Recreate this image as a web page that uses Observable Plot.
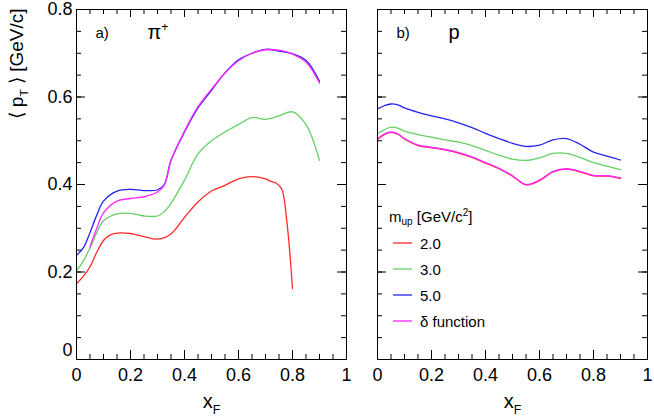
<!DOCTYPE html>
<html>
<head>
<meta charset="utf-8">
<script src="https://cdn.jsdelivr.net/npm/d3@7"></script>
<script src="https://cdn.jsdelivr.net/npm/@observablehq/plot@0.6"></script>
<style>
  body { margin: 0; background: white; font-family: "Liberation Sans", Arial, sans-serif; }
  #chart { position: relative; width: 654px; height: 418px; }
  #legend { position: absolute; left: 389px; top: 204px; font-size: 15px; color: #000; }
  #legend .row { display: flex; align-items: center; height: 26px; }
  #legend sub { font-size: 10px; vertical-align: -3px; }
  #legend sup { font-size: 10px; vertical-align: 6px; }
</style>
</head>
<body>
<div id="chart"></div>
<script>
// panels and series
const panels = ['a', 'b']
const panelTags = ['a)', 'b)']
const panelTitles = ['π+', 'p']
const seriesNames = ['2.0', '3.0', '5.0', 'δ function']
const seriesColors = ['#ff2a2a', '#66d066', '#2424ee', '#ff26ff']

// tick labels
const xMajor = [0, 0.2, 0.4, 0.6, 0.8, 1]
const yMajor = [0, 0.2, 0.4, 0.6, 0.8]
const xMinor = d3.range(0, 21).map(i => i * 0.05)
const yMinor = d3.range(0, 17).map(i => i * 0.05)

// a) pi+
const xPi = [0, 0.025, 0.05, 0.075, 0.1, 0.15, 0.2, 0.25, 0.3, 0.325, 0.35, 0.4, 0.45, 0.5, 0.55, 0.6, 0.65, 0.7, 0.75, 0.8, 0.85, 0.9]
const piGreen = [0.203, 0.225, 0.255, 0.29, 0.317, 0.333, 0.334, 0.328, 0.328, 0.338, 0.357, 0.41, 0.47, 0.50, 0.52, 0.537, 0.553, 0.549, 0.557, 0.566, 0.537, 0.455]
const piBlue = [0.238, 0.255, 0.29, 0.33, 0.362, 0.385, 0.389, 0.386, 0.388, 0.40, 0.455, 0.52, 0.575, 0.615, 0.655, 0.685, 0.70, 0.709, 0.705, 0.699, 0.684, 0.636]
const xPiDelta = [0.05, 0.075, 0.1, 0.15, 0.2, 0.25, 0.3, 0.325, 0.35, 0.4, 0.45, 0.5, 0.55, 0.6, 0.65, 0.7, 0.75, 0.8, 0.85, 0.9]
const piDelta = [0.257, 0.30, 0.335, 0.362, 0.368, 0.372, 0.383, 0.398, 0.455, 0.522, 0.578, 0.618, 0.655, 0.683, 0.70, 0.708, 0.707, 0.698, 0.68, 0.632]
const xPiRed = [0, 0.025, 0.05, 0.075, 0.1, 0.125, 0.15, 0.2, 0.25, 0.3, 0.35, 0.4, 0.45, 0.5, 0.55, 0.6, 0.65, 0.7, 0.72, 0.74, 0.76, 0.78, 0.8]
const piRed = [0.173, 0.19, 0.212, 0.245, 0.272, 0.285, 0.289, 0.288, 0.281, 0.275, 0.287, 0.325, 0.36, 0.385, 0.398, 0.413, 0.418, 0.413, 0.407, 0.403, 0.39, 0.31, 0.162]

// b) p
const xP = [0, 0.025, 0.05, 0.075, 0.1, 0.15, 0.2, 0.25, 0.3, 0.35, 0.4, 0.45, 0.5, 0.55, 0.6, 0.65, 0.7, 0.75, 0.8, 0.85, 0.9]
const pRed = [0.503, 0.514, 0.519, 0.515, 0.504, 0.489, 0.484, 0.479, 0.472, 0.462, 0.449, 0.436, 0.419, 0.399, 0.409, 0.429, 0.435, 0.429, 0.42, 0.419, 0.414]
const pGreen = [0.516, 0.525, 0.531, 0.529, 0.522, 0.514, 0.508, 0.502, 0.497, 0.489, 0.478, 0.467, 0.458, 0.455, 0.461, 0.471, 0.471, 0.462, 0.45, 0.442, 0.434]
const pBlue = [0.573, 0.58, 0.584, 0.582, 0.575, 0.565, 0.557, 0.55, 0.541, 0.53, 0.517, 0.505, 0.494, 0.487, 0.49, 0.502, 0.505, 0.492, 0.474, 0.465, 0.456]
const pDelta = [0.504, 0.515, 0.52, 0.516, 0.505, 0.49, 0.485, 0.48, 0.473, 0.463, 0.45, 0.437, 0.42, 0.40, 0.41, 0.43, 0.436, 0.43, 0.421, 0.42, 0.415]

const rows = (panel, series, xs, ys) => xs.map((x, i) => ({ panel, series, x, y: ys[i] }))
const data = [
    ...rows('a', '2.0', xPiRed, piRed),
    ...rows('a', '3.0', xPi, piGreen),
    ...rows('a', '5.0', xPi, piBlue),
    ...rows('a', 'δ function', xPiDelta, piDelta),
    ...rows('b', '2.0', xP, pRed),
    ...rows('b', '3.0', xP, pGreen),
    ...rows('b', '5.0', xP, pBlue),
    ...rows('b', 'δ function', xP, pDelta)
]

// tick positions repeated for each panel
const perPanel = ticks => panels.flatMap(panel => ticks.map(v => ({ panel, v })))

// sub/superscripts for plain Plot texts
const richMap = {
    'π+': { fs: 20, parts: [['π', 0], ['+', 1]] },
    'xF': { fs: 20, parts: [['x', 0], ['F', -1]] },
    '⟨ pT ⟩ [GeV/c]': { fs: 19, parts: [['⟨ p', 0], ['T', -1], [' ⟩ [GeV/c]', 0]] }
}
function applyRich(node, { fs, parts }) {
    const t = d3.select(node).text(null)
    let cur = 0
    for (const [s, lvl] of parts) {
        const target = lvl > 0 ? -0.42 * fs : lvl < 0 ? 0.3 * fs : 0
        t.append('tspan').attr('dy', target - cur).attr('font-size', lvl ? 0.62 * fs : fs).text(s)
        cur = target
    }
}

// panel size in px (inward ticks are inset rules)
const pw = 270, ph = 350
const tk = { fx: 'panel', stroke: 'black', strokeWidth: 1 }

let chart = Plot.plot({
    width: 654,
    height: 418,
    marginLeft: 76,
    marginRight: 7,
    marginTop: 9,
    marginBottom: 59,
    fx: { domain: panels, paddingInner: 0.103, paddingOuter: 0, axis: null },
    x: { domain: [0, 1] },
    y: { domain: [0, 0.8] },
    color: { domain: seriesNames, range: seriesColors },
    style: { fontFamily: '"Liberation Sans", Arial, sans-serif', background: 'white' },

    marks: [
        // ticks on all four sides of each panel, pointing inward
        Plot.ruleX(perPanel(xMinor), { x: 'v', insetTop: ph - 5, ...tk }),
        Plot.ruleX(perPanel(xMajor), { x: 'v', insetTop: ph - 9, ...tk }),
        Plot.ruleX(perPanel(xMinor), { x: 'v', insetBottom: ph - 5, ...tk }),
        Plot.ruleX(perPanel(xMajor), { x: 'v', insetBottom: ph - 8, ...tk }),
        Plot.ruleY(perPanel(yMinor), { y: 'v', insetRight: pw - 5, ...tk }),
        Plot.ruleY(perPanel(yMajor), { y: 'v', insetRight: pw - 9, ...tk }),
        Plot.ruleY(perPanel(yMinor), { y: 'v', insetLeft: pw - 5, ...tk }),
        Plot.ruleY(perPanel(yMajor), { y: 'v', insetLeft: pw - 9, ...tk }),

        Plot.line(data, { fx: 'panel', x: 'x', y: 'y', z: 'series', stroke: 'series', strokeWidth: 1.3, curve: 'catmull-rom' }),
        Plot.frame({ stroke: 'black', strokeWidth: 1 }),

        Plot.axisX({ anchor: 'bottom', ticks: xMajor, tickSize: 0, tickPadding: 9, tickFormat: d => String(d), label: null, fontSize: 18 }),
        Plot.axisY({ anchor: 'left', ticks: yMajor.slice(1), tickSize: 0, tickPadding: 4, tickFormat: d => String(d), label: null, fontSize: 18 }),
        Plot.axisY({ anchor: 'left', ticks: yMajor.slice(0, 1), tickSize: 0, tickPadding: 4, tickFormat: d => String(d), label: null, fontSize: 18, dy: -9 }),

        Plot.text(panels, { fx: d => d, text: (d, i) => panelTags[i], frameAnchor: 'top-left', textAnchor: 'start', lineAnchor: 'middle', dx: 19, dy: 24, fontSize: 15 }),
        Plot.text(panels, { fx: d => d, text: (d, i) => panelTitles[i], frameAnchor: 'top-left', textAnchor: 'start', lineAnchor: 'middle', dx: 71, dy: 23, fontSize: 20 }),
        Plot.text(panels, { fx: d => d, text: () => 'xF', frameAnchor: 'bottom', lineAnchor: 'middle', dy: 42, fontSize: 20 }),
        Plot.text(['⟨ pT ⟩ [GeV/c]'], { fx: () => 'a', text: d => d, frameAnchor: 'top-left', rotate: -90, textAnchor: 'end', lineAnchor: 'bottom', dx: -54, dy: -1, fontSize: 19 })
    ]
})

d3.select(chart).selectAll('text').each(function () {
    const r = richMap[this.textContent]
    if (r) applyRich(this, r)
})

d3.select('#chart').append(() => chart)

// legend inside panel b
const legend = d3.select('#chart').append('div').attr('id', 'legend')
legend.append('div').attr('class', 'row').append('span').html('m<sub>up</sub>&nbsp;[GeV/c<sup>2</sup>]')
seriesNames.forEach((name, i) => {
    const row = legend.append('div').attr('class', 'row')
    row.append('svg').attr('width', 31).attr('height', 10)
        .append('line').attr('x1', 4).attr('x2', 23).attr('y1', 5).attr('y2', 5)
        .attr('stroke', seriesColors[i]).attr('stroke-width', 1.3)
    row.append('span').text(name)
})
</script>
</body>
</html>
